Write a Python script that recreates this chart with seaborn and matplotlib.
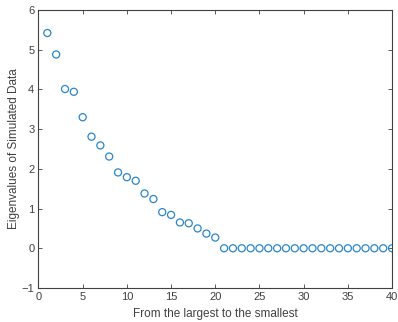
import matplotlib
matplotlib.use("Agg")
import matplotlib.pyplot as plt
import seaborn as sns
import pandas as pd

index = list(range(1, 41))
eigenvalues = [5.42, 4.88, 4.01, 3.94, 3.30, 2.81, 2.59, 2.31, 1.91, 1.79,
               1.70, 1.38, 1.24, 0.91, 0.84, 0.65, 0.63, 0.50, 0.37, 0.27] + [0.0] * 20
x_ticks = [0, 5, 10, 15, 20, 25, 30, 35, 40]
y_ticks = [-1, 0, 1, 2, 3, 4, 5, 6]

sns.set_theme(style="white")
plt.rcParams['font.family'] = ['Liberation Sans', 'DejaVu Sans']

df = pd.DataFrame({"idx": index, "ev": eigenvalues})

fig = plt.figure(figsize=(3.98, 3.22), dpi=100)
ax = fig.add_axes([0.0967, 0.1056, 0.8883, 0.8634])
sns.scatterplot(data=df, x="idx", y="ev", ax=ax, marker="o", s=26,
                facecolor="none", edgecolor="#2a86cc", linewidth=0.9)
ax.set_xlim(0, 40)
ax.set_ylim(-1, 6)
ax.set_xticks(x_ticks)
ax.set_yticks(y_ticks)
gray = "#404040"
for sp in ax.spines.values():
    sp.set_color(gray)
    sp.set_linewidth(0.8)
ax.tick_params(direction="in", length=3, width=0.6, colors=gray, labelsize=8,
               top=True, right=True, bottom=True, left=True, labelcolor=gray, pad=3)
ax.set_xlabel("From the largest to the smallest", fontsize=8.5, color=gray, labelpad=4)
ax.set_ylabel("Eigenvalues of Simulated Data", fontsize=8.5, color=gray, labelpad=1)
fig.savefig("out.png", dpi=100)
